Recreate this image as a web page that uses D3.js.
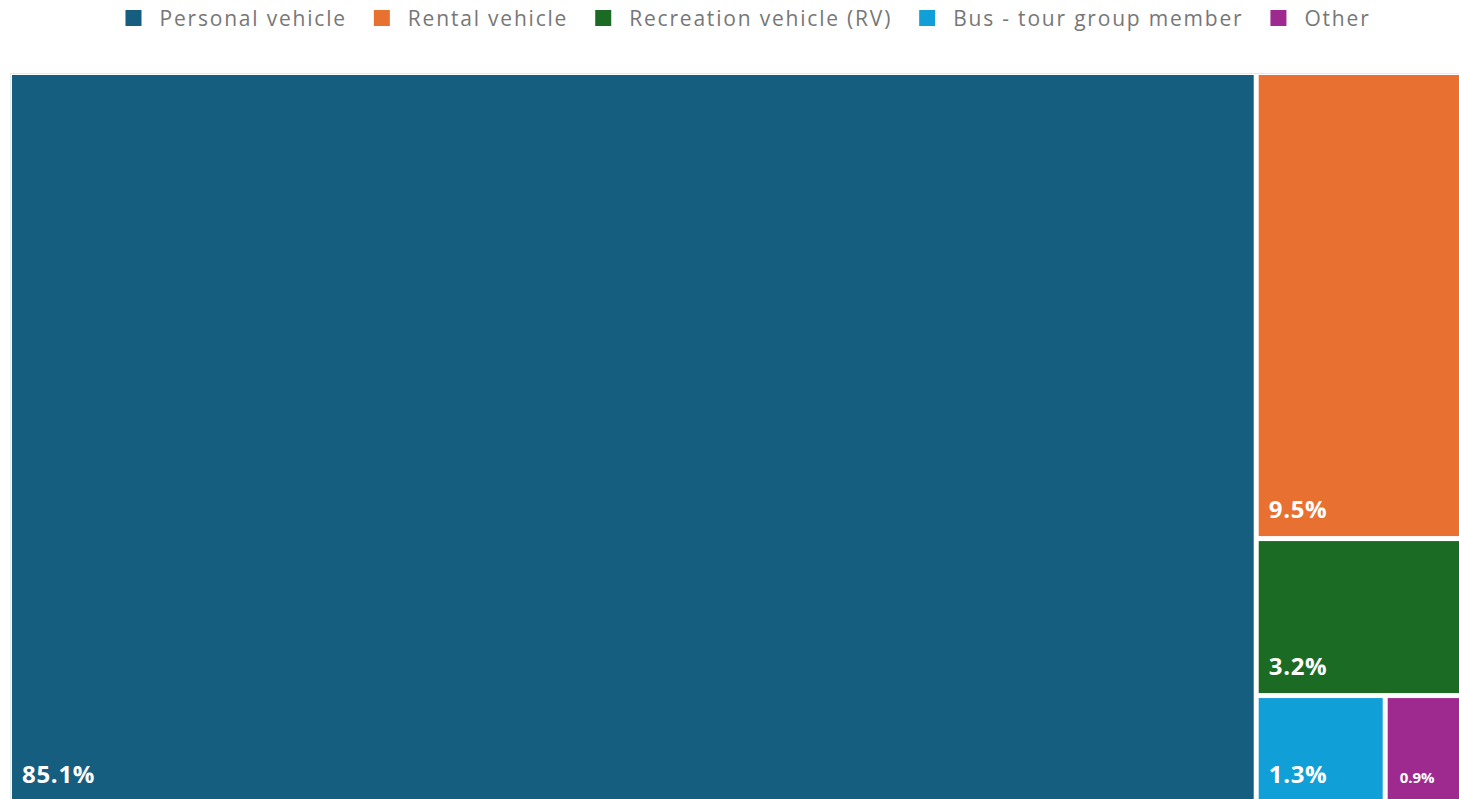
<!DOCTYPE html>
<html>
<head>
<meta charset="utf-8">
<script src="https://cdn.jsdelivr.net/npm/d3@7"></script>
<style>
  body { margin: 0; background: #fff; overflow: hidden; }
  svg { display: block; font-family: "Open Sans", "Noto Sans", sans-serif; }
</style>
</head>
<body>
<svg id="chart"></svg>
<script>
const categories = ['Personal vehicle', 'Rental vehicle', 'Recreation vehicle (RV)', 'Bus - tour group member', 'Other'];
const shares = [85.1, 9.5, 3.2, 1.3, 0.9];
const labels = ['85.1%', '9.5%', '3.2%', '1.3%', '0.9%'];
const colors = ['#165e80', '#e87131', '#1c6b24', '#119fd8', '#9e2a90'];

const width = 1459;
const height = 799;

const svg = d3.select('#chart')
  .attr('width', width)
  .attr('height', height);

// legend across the top
const legend = svg.append('g');
let lx = 0;
categories.forEach((c, i) => {
  const item = legend.append('g').attr('transform', `translate(${lx}, 0)`);
  item.append('rect')
    .attr('x', 0).attr('y', 10)
    .attr('width', 16).attr('height', 16)
    .attr('fill', colors[i]);
  const t = item.append('text')
    .attr('x', 34).attr('y', 26)
    .attr('font-size', 21)
    .attr('letter-spacing', 1.8)
    .attr('fill', '#777')
    .text(c);
  lx += 34 + t.node().getComputedTextLength() + 27;
});
const legendW = lx - 27;
legend.attr('transform', `translate(${748 - legendW / 2}, 0)`);

// treemap
const mapTop = 75, mapLeft = 12;
const mapW = 1460, mapH = 726;

const root = d3.hierarchy({children: categories.map((c, i) => ({name: c, value: shares[i], i}))})
  .sum(d => d.value || 0);

d3.treemap()
  .tile(d3.treemapSquarify.ratio(1))
  .size([mapW, mapH])
  .paddingInner(5)(root);

const chart = svg.append('g')
  .attr('transform', `translate(${mapLeft}, ${mapTop})`);

chart.append('rect')
  .attr('x', -1.5).attr('y', -1.5)
  .attr('width', mapW + 3).attr('height', mapH + 3)
  .attr('fill', 'none')
  .attr('stroke', '#e3ebef')
  .attr('stroke-width', 1);

const leaves = chart.selectAll('g.tile')
  .data(root.leaves())
  .enter()
  .append('g')
  .attr('class', 'tile');

leaves.append('rect')
  .attr('x', d => d.x0)
  .attr('y', d => d.y0)
  .attr('width', d => d.x1 - d.x0)
  .attr('height', d => d.y1 - d.y0)
  .attr('fill', d => colors[d.data.i]);

leaves.append('text')
  .attr('x', d => d.x0 + (d.data.i === 4 ? 12 : 10))
  .attr('y', d => d.y1 - 18)
  .attr('fill', '#fff')
  .attr('font-weight', 'bold')
  .attr('letter-spacing', d => d.data.i === 4 ? 0 : 0.7)
  .attr('font-size', d => d.data.i === 4 ? 15 : 24)
  .text(d => labels[d.data.i]);
</script>
</body>
</html>
